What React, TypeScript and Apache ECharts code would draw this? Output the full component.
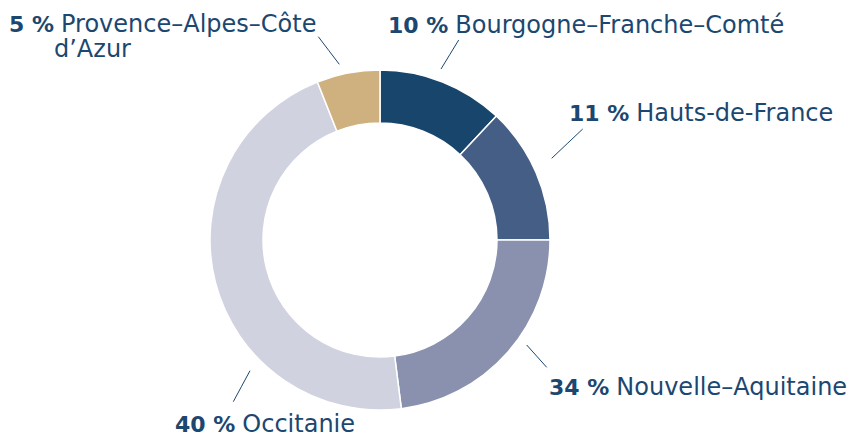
import React, { useEffect, useRef } from "react";
import * as echarts from "echarts";

// ---- data ----
const regions = [
  "Bourgogne–Franche–Comté",
  "Hauts-de-France",
  "Nouvelle–Aquitaine",
  "Occitanie",
  "Provence–Alpes–Côte d’Azur",
];
const sliceValues = [12, 13, 23, 46, 6];
const shareLabels = [10, 11, 34, 40, 5];

// ---- styles / layout ----
const COLORS = ["#17456c", "#445e85", "#8991ae", "#d0d2e0", "#cfb17f"];
const TEXT = "#1b4770";
const FONT = "'DejaVu Sans', sans-serif";
const FS = 24;
const FSB = 22;
const LH = 25;
const CENTER: [number, number] = [380, 240];
const LABEL_POS: [number, number][] = [
  [388, 25],
  [569, 113],
  [549, 387],
  [175, 424],
  [9, 36.5],
];
const LEADERS: [number, number][][] = [
  [[441, 69], [458.7, 40]],
  [[551.7, 158.3], [582.7, 129]],
  [[526.7, 345], [546.7, 367.3]],
  [[250, 370.7], [233.3, 401.7]],
  [[339.3, 64.3], [318.3, 36.7]],
];

export default function App() {
  const ref = useRef<HTMLDivElement>(null);
  useEffect(() => {
    document.body.style.margin = "0";
    if (!ref.current) return;
    const chart = echarts.init(ref.current, null, { renderer: "svg" });
    chart.setOption({
      animation: false,
      series: [
        {
          type: "pie",
          center: CENTER,
          radius: [117, 170],
          startAngle: 90,
          clockwise: true,
          itemStyle: { borderColor: "#fff", borderWidth: 1.5 },
          emphasis: { disabled: true },
          data: regions.map((r, i) => ({
            name: r,
            value: sliceValues[i],
            itemStyle: { color: COLORS[i] },
          })),
          label: {
            show: true,
            color: TEXT,
            fontFamily: FONT,
            overflow: "none",
            formatter: (p: any) => {
              const i = p.dataIndex;
              const name: string = regions[i];
              if (name.includes("Côte")) {
                const cut = name.indexOf("Côte") + 4;
                return `{p|${shareLabels[i]} %}{sp|}{n|${name.slice(0, cut)}}\n{pad|}{n|${name.slice(cut + 1)}}`;
              }
              return `{p|${shareLabels[i]} %}{sp|}{n|${name}}`;
            },
            rich: {
              p: { fontFamily: FONT, fontSize: FSB, fontWeight: 700, color: TEXT, lineHeight: LH },
              n: { fontFamily: FONT, fontSize: FS, fontWeight: 400, color: TEXT, lineHeight: LH },
              sp: { width: 7, lineHeight: LH },
              pad: { width: 45, lineHeight: LH },
            },
          },
          labelLine: { show: true, lineStyle: { color: TEXT, width: 1 } },
          labelLayout: (params: any) => {
            const i = params.dataIndex;
            const [a, b] = LEADERS[i];
            return {
              x: LABEL_POS[i][0],
              y: LABEL_POS[i][1],
              align: "left",
              verticalAlign: "middle",
              labelLinePoints: [a, [(a[0] + b[0]) / 2, (a[1] + b[1]) / 2], b],
            };
          },
        },
      ],
    });
    return () => chart.dispose();
  }, []);
  return <div ref={ref} style={{ width: 852, height: 436 }} />;
}
